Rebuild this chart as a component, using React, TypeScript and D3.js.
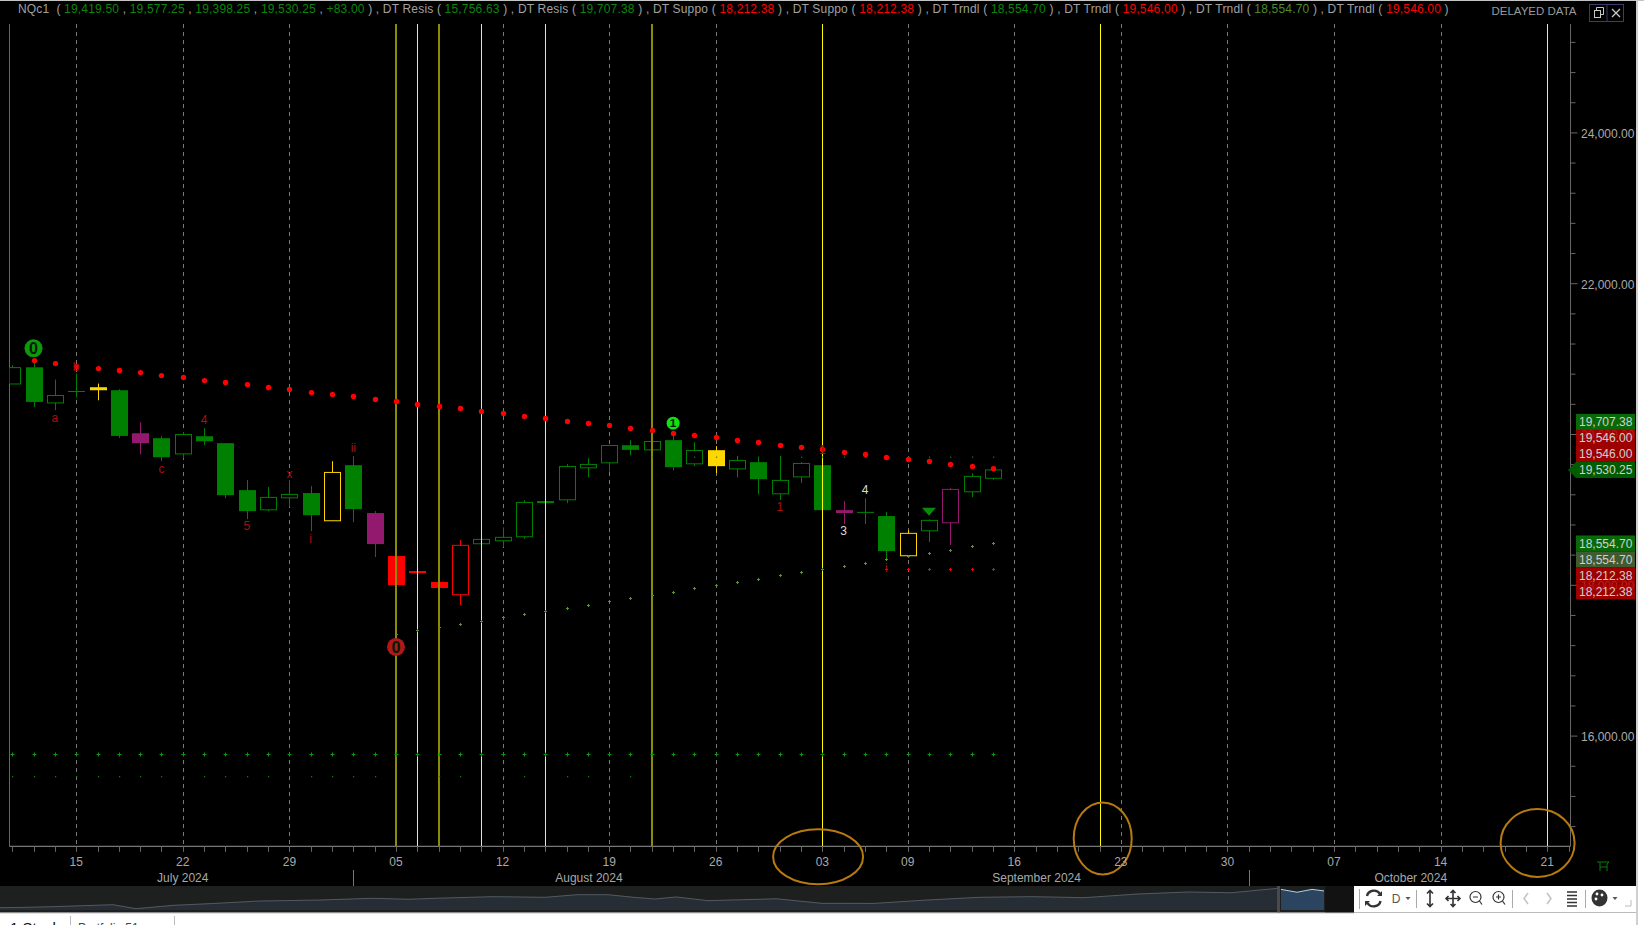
import React from "react";
import * as d3 from "d3";

const FONT = "'Liberation Sans', Arial, sans-serif";

// Bars: index 0 is 15 July 2024, one index per session
const barIndex = [-3,-2,-1,0,1,2,3,4,5,6,7,8,9,10,11,12,13,14,15,16,17,18,19,20,21,22,23,24,25,26,27,28,29,30,31,32,33,34,35,36,37,38,39,40,41,42,43];
const barHigh = [20918,20948,20728,20808,20675,20600,20163,19977,20034,20083,19885,19395,19302,19395,19315,19646,19713,18984,18388,18189,18556,18600,18609,18768,19130,19117,19607,19686,19858,19925,19951,19987,19898,19845,19713,19686,19713,19633,19593,19117,19156,18971,18732,18874,19289,19487,19577.25];
const barTop = [20887,20891,20517,20570,20627,20587,20017,19951,20000,19977,19885,19262,19166,19205,19223,19497,19593,18958,18388,18189,18044,18530,18609,18636,19099,19117,19576,19603,19854,19858,19907,19925,19788,19792,19656,19633,19391,19616,19593,18997,18967,18918,18689,18861,19272,19444,19530.25];
const barBottom = [20670,20432,20419,20570,20587,19981,19885,19699,19743,19911,19196,18984,19001,19160,18931,18856,19011,18547,18004,18163,17964,17875,18551,18591,18644,19090,19134,19558,19624,19796,19796,19567,19611,19580,19544,19408,19213,19438,18997,18958,18967,18454,18392,18723,18829,19240,19419.5];
const barLow = [20670,20366,20322,20490,20454,19955,19739,19646,19682,19858,19156,18878,18984,19041,18719,18856,18838,18375,18004,18163,17828,17739,18551,18507,18617,19090,19090,19434,19505,19726,19752,19527,19580,19487,19434,19209,19130,19355,18997,18812,18812,18335,18388,18574,18534,19170,19398.25];
const barColor = ["g","g","g","g","y","g","p","g","g","g","g","g","g","g","g","y","g","p","r","r","r","r","g","g","g","g","g","g","g","g","g","g","g","y","g","g","g","g","g","p","g","g","y","g","p","g","g"];
const barHollow = [1,0,1,1,0,0,0,0,1,0,0,0,1,1,0,1,0,0,0,0,0,1,1,1,1,0,1,1,1,0,1,0,1,0,1,0,1,1,0,0,1,0,1,1,1,1,1];

// DT Trndl, upper (red dots) from index -2 to 43
const trendUpper = [20980,20940,20901,20874,20848,20821,20781,20755,20715,20689,20662,20623,20596,20556,20530,20503,20464,20437,20397,20371,20344,20305,20278,20238,20212,20172,20146,20119,20079,20053,20013,19987,19960,19921,19894,19854,19828,19801,19762,19735,19695,19669,19642,19603,19576,19546];
// DT Trndl, lower (olive crosses) from index 15 to 43
const trendLower = [17351,17404,17444,17483,17523,17576,17616,17656,17695,17735,17788,17828,17868,17907,17960,18000,18040,18079,18132,18172,18212,18252,18291,18344,18384,18424,18464,18517,18554.7];

const resistLevel = 15756.63;
const resistLevelLowIdx = [-3,-2,-1,0,1,2,3,4,5,6,7,8,9,10,11,12,13,14,17,18,20,21,23,24,25,26];
const resistLowerLevel = 15470;
const resistUpperLevel = 19707.38;
const resistUpperIdx = [27,28,29,30,31,32,33,34,35,36,37,38,39,40,41,42,43];
const supportLevel = 18212.38;
const supportIdx = [38,39,40,41,42,43];

// Vertical cycle lines
const cycleIdx = [15,16,17,19,22,27,35,48,69];
const cycleSoft = [1,0,1,0,0,1,0,0,0];

// Time axis
const tickIdx = [0,5,10,15,20,25,30,35,39,44,49,54,59,64,69];
const tickLabels = ["15","22","29","05","12","19","26","03","09","16","23","30","07","14","21"];
const minorIdx = [-3,-2,-1,0,1,2,3,4,5,6,7,8,9,10,11,12,13,14,15,16,17,18,19,20,21,22,23,24,25,26,27,28,29,30,31,32,33,34,35,36,37,38,39,40,41,42,43,44,45,46,47,48,49,50,51,52,53,54,55,56,57,58,59,60,61,62,63,64,65,66,67,68,69,70];
const monthLabels = ["July 2024","August 2024","September 2024","October 2024"];
const monthIdx = [5,24.05,45.05,62.6];
const monthSeparators = [13,55];

// Price axis
const majorPrices = [16000,18000,20000,22000,24000];
const minorPrices = [14800,15200,15600,16000,16400,16800,17200,17600,18000,18400,18800,19200,19600,20000,20400,20800,21200,21600,22000,22400,22800,23200,23600,24000,24400,24800,25200];

// Stacked price tags
const tagUpperText = ["19,707.38","19,546.00","19,546.00"];
const tagUpperFill = ["#0a7a0a","#b80000","#b80000"];
const tagLowerText = ["18,554.70","18,554.70","18,212.38","18,212.38"];
const tagLowerFill = ["#0a7a0a","#4a6a3a","#b80000","#b80000"];
const lastPrice = 19530.25;
const lowerAnchor = 18554.7;

// Annotations
const redNoteIdx = [-1,0,4,6,8,10,11,13,33,35,38];
const redNotePrice = [20220,20895,19540,20189,18785,19474,18613,19822,19037,19792,18233];
const redNoteText = ["a","b","c","4","5","x","i","ii","1","1","i"];
const whiteNoteIdx = [36,37];
const whiteNotePrice = [18719,19262];
const whiteNoteText = ["3","4"];
const triangleIdx = 40;
const trianglePrice = 18975;
const badgeIdx = [-2,15,28];
const badgePrice = [21143,17183,20150];
const badgeText = ["0","0","1"];
const badgeFill = ["#0a9a0a","#b01818","#12e012"];
const badgeR = [9,9,6.5];

// Orange hand-drawn ellipses, in time index and price
const ringIdx = [34.8,48.15,68.55];
const ringPrice = [14400,14643,14583];
const ringRx = [45,29,37];
const ringRy = [27.5,36,34];

// Overview strip
const navSession = [0,26,52,113,136,173,215,257,320,372,409,435,493,545,577,608,634,655,676,708,760,776,822,874,927,979,1032,1084,1137,1189,1231,1278];
const navLevel = [16.5,18,20.4,28,12.7,25.6,33,42,46,52.6,49,52.6,59,56.4,66.5,66.5,56.4,50,57.7,43.6,49,51,33.3,33,46,56.4,59,55,69,77,74,91];
const navRecentSession = [1281,1297,1312,1324];
const navRecentLevel = [87,76,87,81];

// Legend
const G = "#a0a0a0", V = "#0b860b", R = "#ff0000", D = "#4f8a2a";
const legendText = ["NQc1  ( ","19,419.50"," , ","19,577.25"," , ","19,398.25"," , ","19,530.25"," , ","+83.00"," ) , DT Resis ( ","15,756.63"," ) , DT Resis ( ","19,707.38"," ) , DT Suppo ( ","18,212.38"," ) , DT Suppo ( ","18,212.38"," ) , DT Trndl ( ","18,554.70"," ) , DT Trndl ( ","19,546.00"," ) , DT Trndl ( ","18,554.70"," ) , DT Trndl ( ","19,546.00"," )"];
const legendColor = [G,V,G,V,G,V,G,V,G,V,G,V,G,V,G,R,G,R,G,V,G,R,G,D,G,R,G];

const x = d3.scaleLinear().domain([0, 69]).range([76.2, 1547.2]);
const y = d3.scaleLinear().domain([18000, 24000]).range([585.3, 132.9]);
const px = (i: number) => Math.round(x(i)) + 0.5;

const PLOT = { left: 9.5, right: 1570.5, top: 24, bottom: 846.3 };
const colors: Record<string, string> = { g: "#008000", y: "#ffd700", p: "#93196f", r: "#ff0000" };

function Plus({ cx, cy, r, color }: { cx: number; cy: number; r: number; color: string }) {
  return <path d={`M${cx - r},${cy}H${cx + r}M${cx},${cy - r}V${cy + r}`} stroke={color} strokeWidth={1} fill="none" />;
}

export default function App() {
  const navX = d3.scaleLinear().domain([0, 1278]).range([0, 1278]);
  const navY = d3.scaleLinear().domain([0, 100]).range([912, 886]);
  const navData = navSession.map((s, i) => [s, navLevel[i]] as [number, number]);
  const recentData = navRecentSession.map((s, i) => [s, navRecentLevel[i]] as [number, number]);
  const area = d3.area<[number, number]>().x(d => navX(d[0])).y0(910).y1(d => navY(d[1]));
  const line = d3.line<[number, number]>().x(d => navX(d[0])).y(d => navY(d[1]));

  return (
    <svg width={1644} height={925} viewBox="0 0 1644 925"
      style={{ position: "fixed", left: 0, top: 0, display: "block", background: "#fff" }} fontFamily={FONT}>
      <defs>
        <clipPath id="plot"><rect x={PLOT.left} y={PLOT.top} width={PLOT.right - PLOT.left} height={PLOT.bottom - PLOT.top} /></clipPath>
      </defs>
      <rect x={0} y={1} width={1636} height={885} fill="#000" />
      <rect x={0} y={0} width={1644} height={1} fill="#c4c4c4" />
      <rect x={1636} y={0} width={2} height={925} fill="#cfcfcf" />

      {/* legend */}
      <text x={18} y={13} fontSize={12} textLength={1430.6} lengthAdjust="spacing" style={{ whiteSpace: "pre" }}>
        {legendText.map((t, i) => <tspan key={i} fill={legendColor[i]}>{t}</tspan>)}
      </text>
      <text x={1534} y={15} fontSize={11.5} fill="#9a9a9a" textAnchor="middle">DELAYED DATA</text>
      <g stroke="#3c3c66" fill="none">
        <rect x={1589.5} y={4.5} width={34} height={17} />
        <line x1={1607} x2={1607} y1={4.5} y2={21.5} />
      </g>
      <g stroke="#c8c8c8" fill="none" strokeWidth={1}>
        <rect x={1594.5} y={10.5} width={6} height={7} />
        <path d="M1596.5,10.5V7.5H1603.5V14.5H1600.5" />
        <path d="M1612,9L1620,17M1620,9L1612,17" strokeWidth={1.3} />
      </g>

      {/* plot frame */}
      <line x1={PLOT.left} x2={PLOT.left} y1={PLOT.top} y2={PLOT.bottom} stroke="#666" />
      <line x1={PLOT.right} x2={PLOT.right} y1={PLOT.top} y2={PLOT.bottom} stroke="#666" />
      <line x1={PLOT.left} x2={PLOT.right} y1={PLOT.bottom} y2={PLOT.bottom} stroke="#777" strokeWidth={1.2} />

      {/* dashed grid */}
      {tickIdx.filter(i => !cycleIdx.includes(i)).map(i => (
        <line key={i} x1={px(i)} x2={px(i)} y1={PLOT.top} y2={PLOT.bottom} stroke="#7a7a7a" strokeDasharray="4 4" />
      ))}

      <g clipPath="url(#plot)">
        {/* candles */}
        {barIndex.map((b, i) => {
          const c = colors[barColor[i]];
          const cx = px(b);
          const t = y(barTop[i]), bt = y(barBottom[i]);
          const hollow = barHollow[i] === 1;
          const hgt = bt - t;
          return (
            <g key={b}>
              <line x1={cx} x2={cx} y1={y(barHigh[i])} y2={y(barLow[i])} stroke={c} />
              {hgt < 0.8 ? (
                <line x1={cx - 8.5} x2={cx + 8.5} y1={t} y2={t} stroke={c} />
              ) : hollow ? (
                <rect x={cx - 8} y={t} width={16} height={hgt} fill="#000" stroke={c} />
              ) : (
                <rect x={cx - 8.5} y={t} width={17} height={hgt} fill={c} />
              )}
            </g>
          );
        })}

        {/* cycle lines */}
        {cycleIdx.map((c, i) => (
          <line key={c} x1={cycleSoft[i] ? px(c) - 0.5 : px(c)} x2={cycleSoft[i] ? px(c) - 0.5 : px(c)}
            y1={PLOT.top} y2={PLOT.bottom} stroke={cycleSoft[i] ? "#8c8c00" : "#ffff00"} strokeWidth={cycleSoft[i] ? 2 : 1} />
        ))}

        {/* level markers */}
        {barIndex.map(b => <Plus key={b} cx={px(b)} cy={Math.round(y(resistLevel)) + 0.5} r={2} color="#0a9a0a" />)}
        {resistLevelLowIdx.map(b => <rect key={b} x={Math.round(x(b))} y={y(resistLowerLevel)} width={1.2} height={1.2} fill="#0c8c0c" />)}
        {resistUpperIdx.map(b => <rect key={b} x={Math.round(x(b))} y={y(resistUpperLevel)} width={1.2} height={1.2} fill="#0c8c0c" />)}
        {trendLower.map((v, i) => <Plus key={i} cx={px(i + 15)} cy={Math.round(y(v)) + 0.5} r={1.5} color="#5f8f3c" />)}
        {supportIdx.map(b => <Plus key={b} cx={px(b)} cy={Math.round(y(supportLevel)) + 0.5} r={1.5} color="#ff0000" />)}
        {trendUpper.map((v, i) => <circle key={i} cx={px(i - 2)} cy={y(v)} r={2.7} fill="#ff0000" />)}

        {/* annotations */}
        {redNoteText.map((t, i) => (
          <text key={i} x={x(redNoteIdx[i])} y={y(redNotePrice[i])} dy="0.35em" textAnchor="middle" fontSize={12} fill="#a80f0f">{t}</text>
        ))}
        {whiteNoteText.map((t, i) => (
          <text key={i} x={x(whiteNoteIdx[i])} y={y(whiteNotePrice[i])} dy="0.35em" textAnchor="middle" fontSize={12} fill="#dcdcdc">{t}</text>
        ))}
        <path d={d3.line()([[x(triangleIdx) - 7, y(trianglePrice) - 4], [x(triangleIdx) + 7, y(trianglePrice) - 4], [x(triangleIdx), y(trianglePrice) + 4]])! + "Z"} fill="#0a8a0a" />
        {badgeText.map((t, i) => (
          <g key={i}>
            <circle cx={x(badgeIdx[i])} cy={y(badgePrice[i])} r={badgeR[i]} fill={badgeFill[i]} />
            <text x={x(badgeIdx[i])} y={y(badgePrice[i])} dy="0.36em" textAnchor="middle" fontWeight="bold" fontSize={badgeR[i] * 1.8} fill="#061a06">{t}</text>
          </g>
        ))}
      </g>

      {/* hand-drawn rings */}
      {ringIdx.map((r, i) => (
        <ellipse key={i} cx={x(r)} cy={y(ringPrice[i])} rx={ringRx[i]} ry={ringRy[i]} fill="none" stroke="#b87a10" strokeWidth={2} />
      ))}

      {/* time axis */}
      {minorIdx.map(i => (
        <line key={i} x1={px(i)} x2={px(i)} y1={PLOT.bottom} y2={PLOT.bottom + 5.5} stroke="#666" />
      ))}
      {tickLabels.map((t, i) => (
        <text key={i} x={x(tickIdx[i])} y={866} textAnchor="middle" fontSize={12} fill="#a8a8a8">{t}</text>
      ))}
      {monthLabels.map((t, i) => (
        <text key={i} x={x(monthIdx[i])} y={881.5} textAnchor="middle" fontSize={12} fill="#a8a8a8">{t}</text>
      ))}
      {monthSeparators.map(i => (
        <line key={i} x1={px(i)} x2={px(i)} y1={870} y2={886} stroke="#777" />
      ))}

      {/* price axis */}
      {minorPrices.map(p => (
        <line key={p} x1={PLOT.right} x2={PLOT.right + (majorPrices.includes(p) ? 7 : 5)} y1={y(p)} y2={y(p)} stroke="#666" />
      ))}
      {majorPrices.map(p => (
        <text key={p} x={1581} y={y(p) + 0.6} dy="0.35em" fontSize={12} fill="#aaaaaa">{d3.format(",.2f")(p)}</text>
      ))}

      {/* price tags */}
      {tagUpperText.map((t, i) => {
        const cy = y(lastPrice) - 16 * (tagUpperText.length - i);
        return (
          <g key={i}>
            <rect x={1576} y={cy - 8} width={59} height={16} fill={tagUpperFill[i]} fillOpacity={0.86} />
            <text x={1579} y={cy} dy="0.36em" fontSize={12} fill="#d0d0d0">{t}</text>
          </g>
        );
      })}
      <path d={`M1568,${y(lastPrice)}L1576,${y(lastPrice) - 8}H1635V${y(lastPrice) + 8}H1576Z`} fill="#005c00" />
      <text x={1579} y={y(lastPrice)} dy="0.36em" fontSize={12} fill="#d0d0d0">{d3.format(",.2f")(lastPrice)}</text>
      {tagLowerText.map((t, i) => {
        const cy = y(lowerAnchor) + 16 * i;
        return (
          <g key={i}>
            <rect x={1576} y={cy - 8} width={59} height={16} fill={tagLowerFill[i]} fillOpacity={0.86} />
            <text x={1579} y={cy} dy="0.36em" fontSize={12} fill="#d0d0d0">{t}</text>
          </g>
        );
      })}

      {/* small chart glyph */}
      <path d="M1597,862H1609L1607,864V871M1600,862V871M1600,867H1607" fill="none" stroke="#0a7a0a" />

      {/* overview strip */}
      <rect x={0} y={886} width={1354} height={26.5} fill="#1e2020" />
      <path d={area(navData)!} fill="#272d34" />
      <path d={line(navData)!} fill="none" stroke="#525a60" />
      <rect x={1325} y={886} width={29} height={26.5} fill="#121212" />
      <path d={area(recentData)!} fill="#2b4561" />
      <path d={line(recentData)!} fill="none" stroke="#b4d2e6" />
      <rect x={1277} y={886} width={3} height={26.5} fill="#4a4a4a" />
      <rect x={0} y={912.5} width={1354} height={1} fill="#8a8a8a" />

      {/* toolbar */}
      <rect x={1354} y={886} width={282} height={26.5} fill="#ffffff" />
      <rect x={1354} y={912} width={282} height={1} fill="#bbb" />
      <g stroke="#aaa">
        <line x1={1359.5} x2={1359.5} y1={889} y2={909} />
        <line x1={1416.5} x2={1416.5} y1={890} y2={908} />
        <line x1={1512.5} x2={1512.5} y1={890} y2={908} />
        <line x1={1585.5} x2={1585.5} y1={890} y2={908} />
      </g>
      <g fill="none" stroke="#333" strokeWidth={1.6}>
        <path d="M1367,896A7,6.5 0 0 1 1380,894M1380.5,901A7,6.5 0 0 1 1367.5,903" strokeWidth={2.4} />
        <path d="M1377,896H1382V891ZM1365,901H1370L1365,906Z" fill="#333" stroke="none" />
        <path d="M1430,891V906M1427,893.5L1430,890.5L1433,893.5M1427,903.5L1430,906.5L1433,903.5" />
        <path d="M1453,891V906M1446,898.5H1460M1450.5,893L1453,890.5L1455.5,893M1450.5,904L1453,906.5L1455.5,904M1448.5,896L1446,898.5L1448.5,901M1457.5,896L1460,898.5L1457.5,901" />
        <circle cx={1475.5} cy={897} r={5.5} strokeWidth={1.2} />
        <path d="M1473,897H1478M1479.5,901L1482,904.5" strokeWidth={1.2} />
        <circle cx={1498.5} cy={897} r={5.5} strokeWidth={1.2} />
        <path d="M1496,897H1501M1498.5,894.5V899.5M1502.5,901L1505,904.5" strokeWidth={1.2} />
        <path d="M1528,893L1524,898.5L1528,904M1547,893L1551,898.5L1547,904" stroke="#c4c4c4" />
        <path d="M1567,892H1577M1567,895.5H1577M1567,899H1577M1567,902.5H1577M1567,906H1577" strokeWidth={1.4} />
      </g>
      <text x={1396} y={903} textAnchor="middle" fontSize={12} fill="#555">D</text>
      <path d="M1405.5,897L1410.5,897L1408,900Z" fill="#555" />
      <ellipse cx={1599.5} cy={898} rx={8} ry={8.5} fill="#333" />
      <circle cx={1597} cy={894} r={1.4} fill="#fff" />
      <circle cx={1602} cy={895} r={1.4} fill="#fff" />
      <circle cx={1596} cy={899} r={1.4} fill="#fff" />
      <path d="M1612.5,897L1617.5,897L1615,900Z" fill="#555" />
      <path d="M1625,906H1631V900" fill="none" stroke="#bbb" />

      {/* tab strip clipped by the window edge */}
      <g>
        <rect x={0} y={913.5} width={1636} height={11.5} fill="#fff" />
        <line x1={70.5} x2={70.5} y1={916} y2={925} stroke="#bbb" />
        <line x1={174.5} x2={174.5} y1={916} y2={925} stroke="#bbb" />
        <text x={10} y={933} fontSize={15} fill="#111">1 Stock</text>
        <text x={78} y={932} fontSize={12} fill="#444">Portfolio 51</text>
      </g>
    </svg>
  );
}
